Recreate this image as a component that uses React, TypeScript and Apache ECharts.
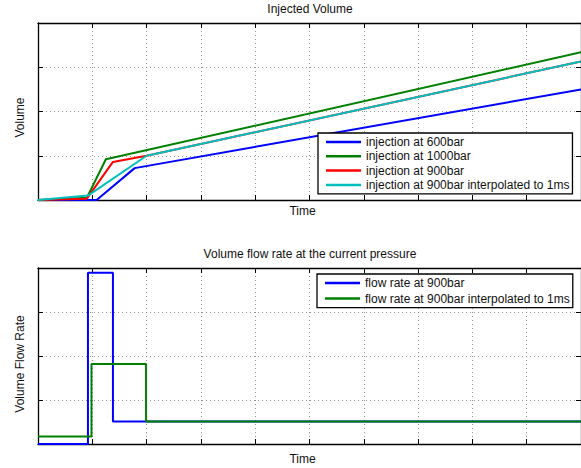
import React, { useEffect, useRef } from "react";
import * as echarts from "echarts";

// ---- data (x in time-tick units, y in volume-tick units) ----
const timeMax = 10;
const valueMax = 4;

const inj600: number[][] = [[0, 0], [1.08, 0], [1.78, 0.72], [10, 2.5]];
const inj1000: number[][] = [[0, 0], [0.9, 0.05], [1.25, 0.92], [10, 3.34]];
const inj900: number[][] = [[0, 0], [0.9, 0.03], [1.38, 0.86], [2.0, 1.0], [10, 3.13]];
const inj900interp: number[][] = [[0, 0], [0.92, 0.1], [2.0, 1.0], [10, 3.13]];

const flow900: number[][] = [[0, 0], [0.92, 0], [0.92, 3.89], [1.38, 3.89], [1.38, 0.51], [10, 0.51]];
const flow900interp: number[][] = [[0, 0.17], [0.985, 0.17], [0.985, 1.82], [1.99, 1.82], [1.99, 0.51], [10, 0.51]];

const topNames = [
  "injection at 600bar",
  "injection at 1000bar",
  "injection at 900bar",
  "injection at 900bar interpolated to 1ms",
];
const bottomNames = ["flow rate at 900bar", "flow rate at 900bar interpolated to 1ms"];

const FONT = "Liberation Sans, Arial, sans-serif";
const TXT = "#111";
const FS = 12;

export default function App() {
  const ref = useRef<HTMLDivElement>(null);
  useEffect(() => {
    if (!ref.current) return;
    const chart = echarts.init(ref.current, undefined, { renderer: "svg" });

    const grids = [
      { left: 38, top: 23, width: 545, height: 177 },
      { left: 38, top: 268, width: 545, height: 176 },
    ];

    const split = { show: true, lineStyle: { color: "#777", width: 0.8, type: [1, 3] } };
    const axisLine = { show: true, onZero: false, lineStyle: { color: "#000", width: 1.3 } };
    const tick = { show: true, inside: true, length: 5, lineStyle: { color: "#000", width: 1 } };

    const xAxes: any[] = [];
    const yAxes: any[] = [];
    [0, 1].forEach((g) => {
      xAxes.push({
        type: "value", gridIndex: g, min: 0, max: timeMax, interval: 1, position: "bottom",
        axisLine, axisTick: tick, axisLabel: { show: false }, splitLine: split,
        name: "Time", nameLocation: "middle", nameGap: g === 0 ? 5 : 9,
        nameTextStyle: { fontFamily: FONT, fontSize: FS, color: TXT, verticalAlign: "top", padding: [0, 14, 0, 0] },
      });
      xAxes.push({
        type: "value", gridIndex: g, min: 0, max: timeMax, interval: 1, position: "top",
        axisLine, axisTick: tick, axisLabel: { show: false }, splitLine: { show: false },
      });
      yAxes.push({
        type: "value", gridIndex: g, min: 0, max: valueMax, interval: 1, position: "left",
        axisLine, axisTick: tick, axisLabel: { show: false }, splitLine: split,
        name: g === 0 ? "Volume" : "Volume Flow Rate", nameLocation: "middle", nameRotate: 90, nameGap: 12,
        nameTextStyle: { fontFamily: FONT, fontSize: FS, color: TXT, padding: [0, g === 0 ? 12 : 16, 0, 0] },
      });
      yAxes.push({
        type: "value", gridIndex: g, min: 0, max: valueMax, interval: 1, position: "right",
        axisLine, axisTick: tick, axisLabel: { show: false }, splitLine: { show: false },
      });
    });

    const line = (name: string, data: number[][], color: string, g: number) => ({
      name, type: "line", data, xAxisIndex: g * 2, yAxisIndex: g * 2,
      symbol: "none", showSymbol: false, color,
      lineStyle: { color, width: 2 }, itemStyle: { color },
    });

    const legendCommon = {
      orient: "vertical", icon: "rect", itemWidth: 35, itemHeight: 2.5,
      backgroundColor: "#fff", borderColor: "#000", borderWidth: 1.3, borderRadius: 0,
      textStyle: { fontFamily: FONT, fontSize: FS, color: TXT, lineHeight: 14 },
      selectedMode: false,
    };

    chart.setOption({
      animation: false,
      backgroundColor: "#fff",
      textStyle: { fontFamily: FONT },
      grid: grids,
      xAxis: xAxes,
      yAxis: yAxes,
      legend: [
        { ...legendCommon, data: topNames, left: 318, top: 133, itemGap: 0.3, padding: [2, 3, 2, 8] },
        { ...legendCommon, data: bottomNames, left: 317, top: 274, itemGap: 1.6, padding: [2, 3, 2, 8] },
      ],
      graphic: [
        { type: "text", x: 310, y: 3, style: { text: "Injected Volume", fontFamily: FONT, fontSize: FS, fill: TXT, textAlign: "center" } },
        { type: "text", x: 310, y: 248, style: { text: "Volume flow rate at the current pressure", fontFamily: FONT, fontSize: FS, fill: TXT, textAlign: "center" } },
      ],
      series: [
        line(topNames[0], inj600, "#0000ff", 0),
        line(topNames[1], inj1000, "#008000", 0),
        line(topNames[2], inj900, "#ff0000", 0),
        line(topNames[3], inj900interp, "#00bfbf", 0),
        line(bottomNames[0], flow900, "#0000ff", 1),
        line(bottomNames[1], flow900interp, "#008000", 1),
      ],
    });
    return () => chart.dispose();
  }, []);
  return <div ref={ref} style={{ position: "fixed", left: 0, top: 0, width: 581, height: 468 }} />;
}
